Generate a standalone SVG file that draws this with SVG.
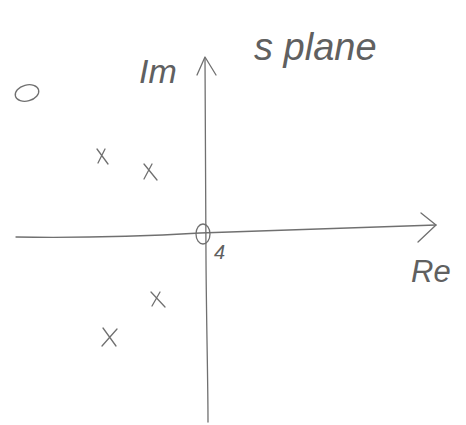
<svg xmlns="http://www.w3.org/2000/svg" width="466" height="425" viewBox="0 0 466 425">
<style>
.ln{fill:none;stroke:#707070;stroke-width:1.3;stroke-linecap:round;stroke-linejoin:round}
.tx{font-family:"Liberation Sans",Arial,sans-serif;font-style:italic;font-weight:normal;fill:#606060}
</style>
<rect width="466" height="425" fill="#fff"/>
<g id="connectors">
<path class="ln" d="M205,58 C205.5,150 206,230 206,260 C206.5,330 208,380 208,422"/>
<path class="ln" d="M197,75 L205,57 L216,75"/>
<path class="ln" d="M16,237 C80,238 130,237 200,233 C300,230 380,227 436,225"/>
<path class="ln" d="M421,213 L436,225 L418,242"/>
</g>
<g id="label-im"><text class="tx" x="139" y="83" font-size="34" font-style="normal">Im</text></g>
<g id="label-splane"><text class="tx" x="254" y="60" font-size="38">s plane</text></g>
<g id="label-re"><text class="tx" x="411" y="282" font-size="31" font-style="normal">Re</text></g>
<g id="zero-origin"><ellipse class="ln" cx="203" cy="234" rx="7" ry="10"/><text class="tx" x="214" y="259" font-size="20">4</text></g>
<g id="zero-left"><ellipse class="ln" cx="27" cy="93" rx="12" ry="8" transform="rotate(-15 27 93)"/></g>
<g id="pole-1"><path class="ln" d="M97,149 L108,164 M105,149 L98,163"/></g>
<g id="pole-2"><path class="ln" d="M144,164 L157,180 M152,164 L144,179"/></g>
<g id="pole-3"><path class="ln" d="M151,292 L165,307 M160,292 L152,306"/></g>
<g id="pole-4"><path class="ln" d="M103,328 L116,346 M117,329 L102,346"/></g>
</svg>
